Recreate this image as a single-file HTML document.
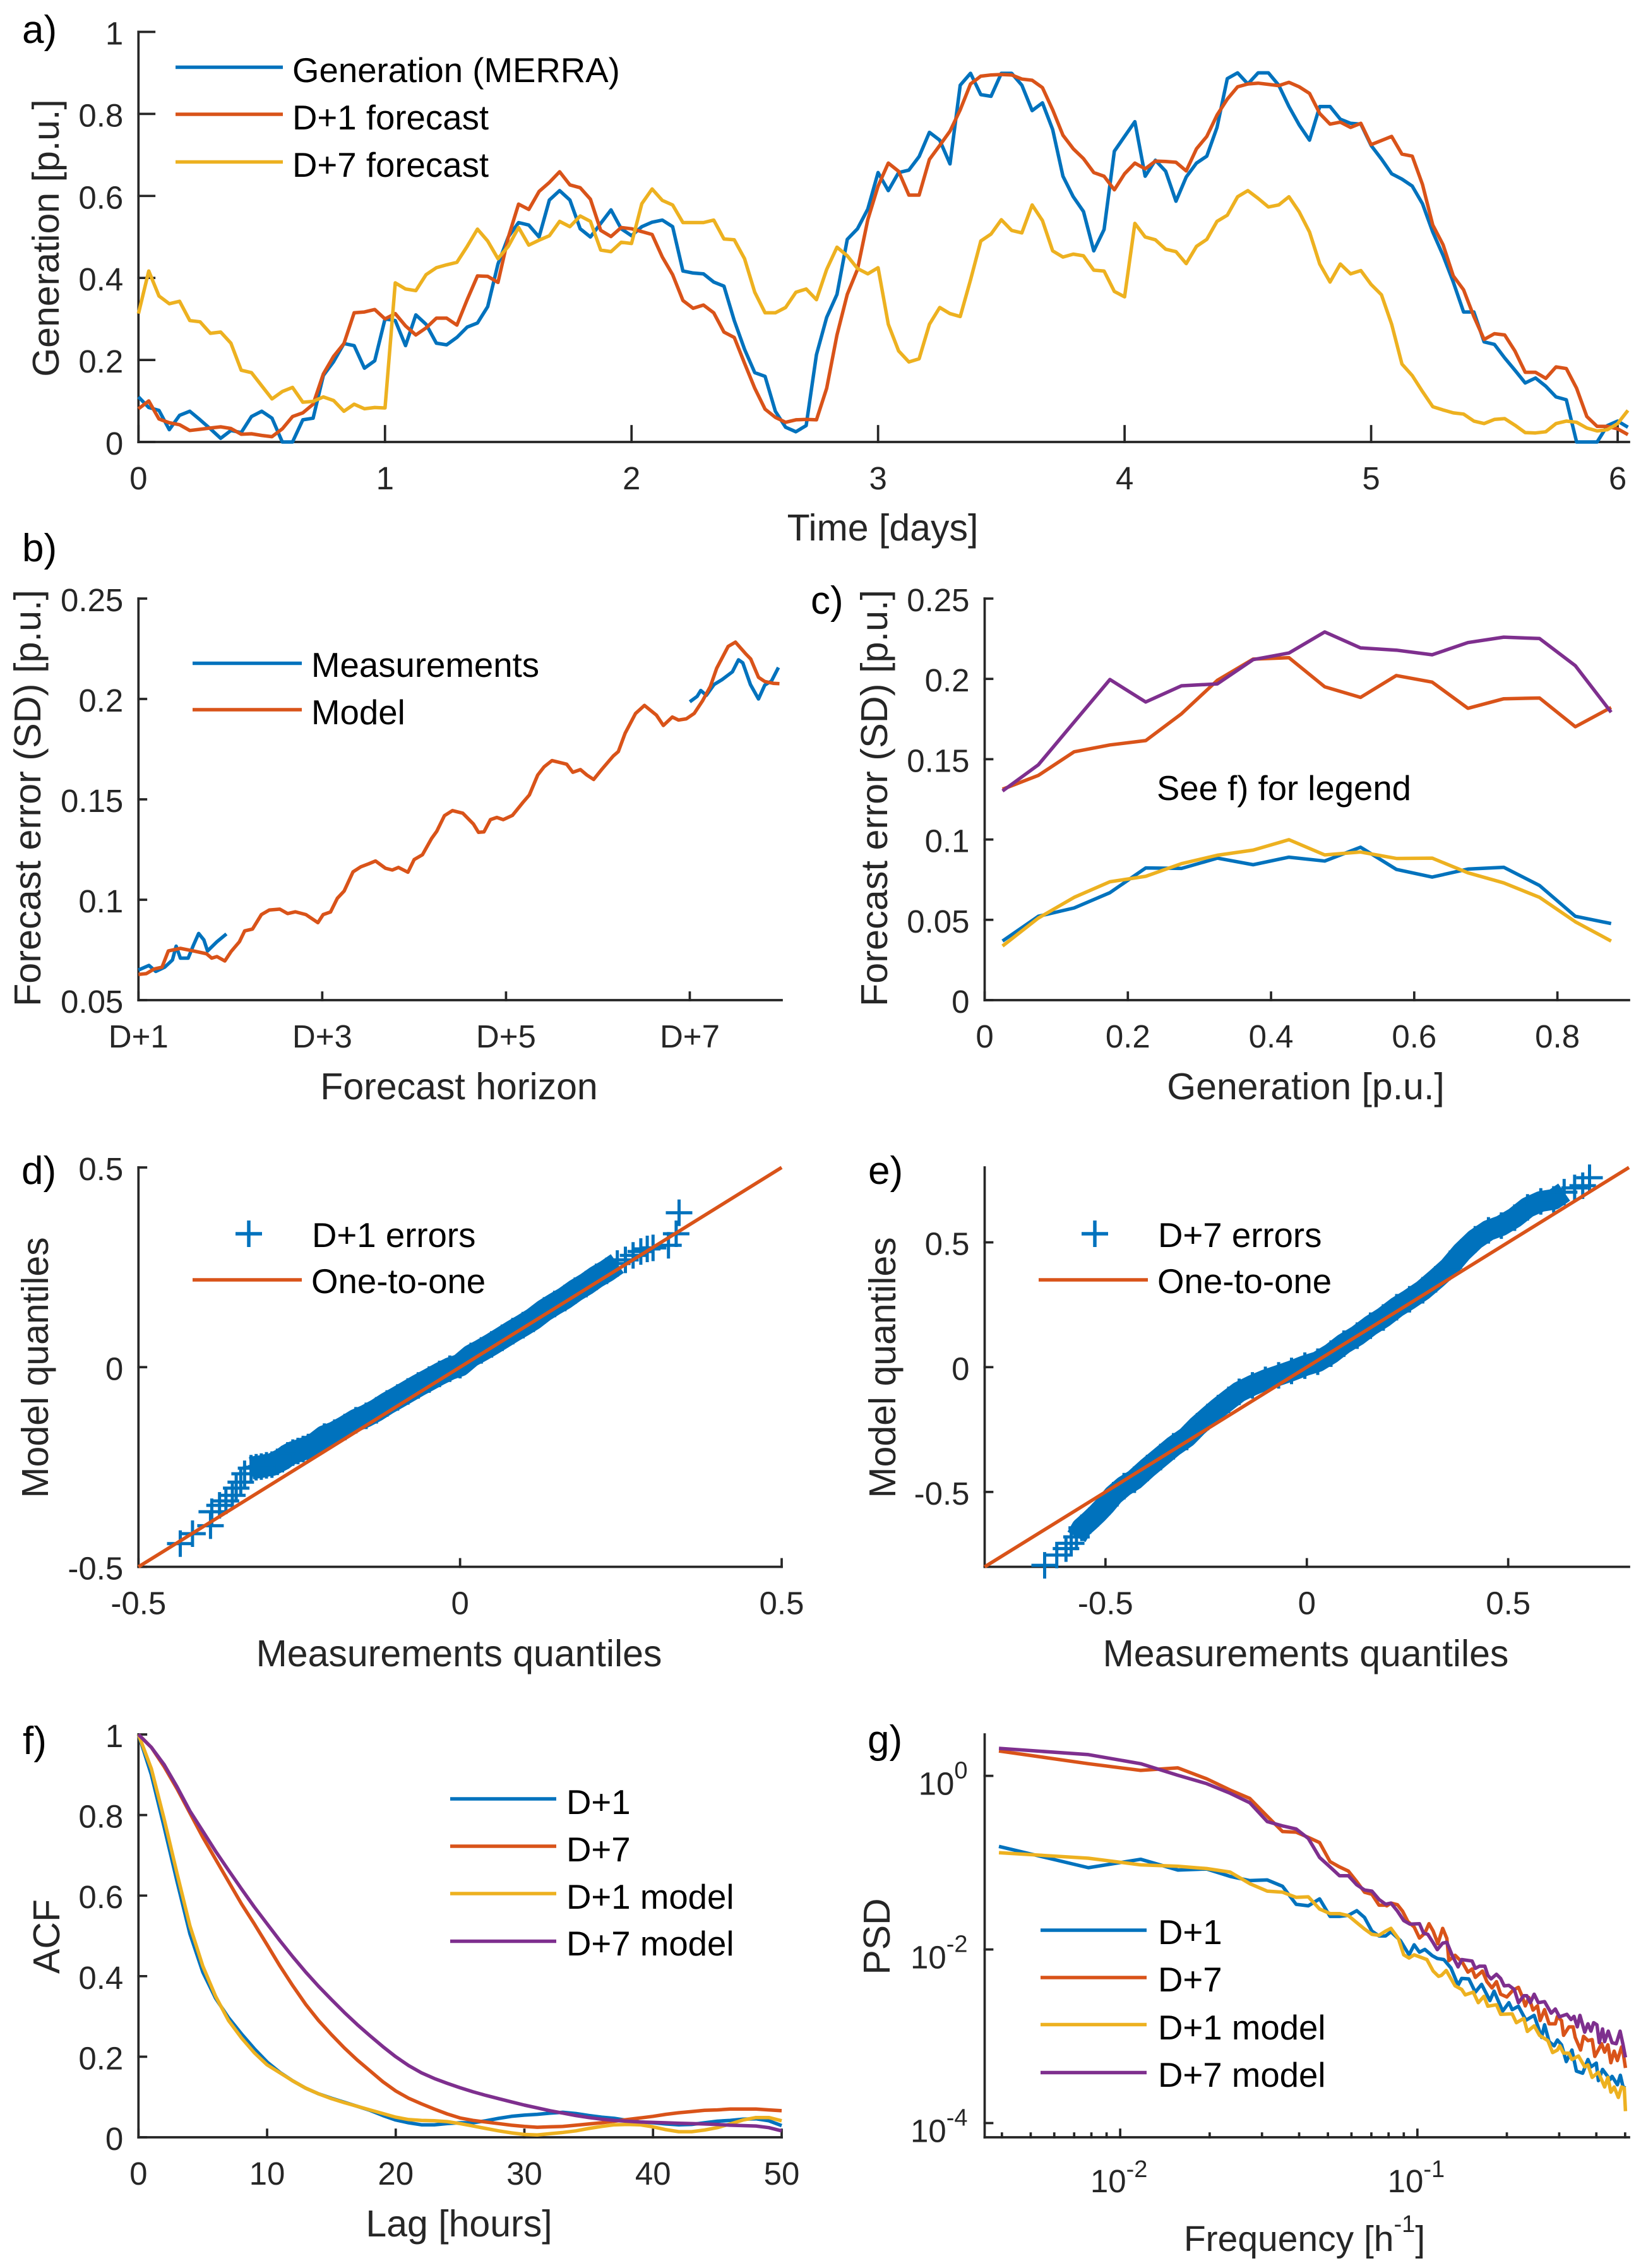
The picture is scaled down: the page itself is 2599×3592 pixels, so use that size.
<!DOCTYPE html>
<html lang="en">
<head>
<meta charset="utf-8">
<title>Wind generation forecast error figure</title>
<style>
html,body{margin:0;padding:0;background:#fff;}
svg{display:block;}
text{font-family:"Liberation Sans",sans-serif;}
.tick{font-size:51px;fill:#262626;}
.lab{font-size:59px;fill:#262626;text-anchor:middle;}
.leg{font-size:54.6px;fill:#000;}
.let{font-size:62px;fill:#000;}
</style>
</head>
<body>
<svg id="fig" xmlns="http://www.w3.org/2000/svg" width="2599" height="3592" viewBox="0 0 2599 3592">
<rect x="0" y="0" width="2599" height="3592" fill="#fff"/>
<g id="marks"></g>

<text class="let" x="35" y="68">a)</text>
<text class="let" x="35" y="889">b)</text>
<text class="let" x="1284" y="972">c)</text>
<text class="let" x="34" y="1875">d)</text>
<text class="let" x="1375" y="1875">e)</text>
<text class="let" x="36" y="2778">f)</text>
<text class="let" x="1374" y="2776">g)</text>

<text class="lab" x="1398" y="856">Time [days]</text>
<text class="lab" transform="translate(93 377) rotate(-90)">Generation [p.u.]</text>
<text class="lab" x="727" y="1741">Forecast horizon</text>
<text class="lab" transform="translate(64 1264) rotate(-90)" style="font-size:59.4px">Forecast error (SD) [p.u.]</text>
<text class="lab" x="2068" y="1741">Generation [p.u.]</text>
<text class="lab" transform="translate(1405 1264) rotate(-90)" style="font-size:59.4px">Forecast error (SD) [p.u.]</text>
<text class="lab" x="727" y="2639">Measurements quantiles</text>
<text class="lab" transform="translate(76 2166) rotate(-90)">Model quantiles</text>
<text class="lab" x="2068" y="2639">Measurements quantiles</text>
<text class="lab" transform="translate(1418 2166) rotate(-90)">Model quantiles</text>
<text class="lab" x="727" y="3542">Lag [hours]</text>
<text class="lab" transform="translate(94 3067) rotate(-90)">ACF</text>
<text class="lab" x="2066" y="3565" style="font-size:57px">Frequency [h<tspan dy="-30" font-size="38">-1</tspan><tspan dy="30">]</tspan></text>
<text class="lab" transform="translate(1409 3067) rotate(-90)">PSD</text>

<g stroke-width="5.5">
<line x1="278" x2="448" y1="106.5" y2="106.5" stroke="#0072BD"/>
<line x1="278" x2="448" y1="181" y2="181" stroke="#D95319"/>
<line x1="278" x2="448" y1="256.5" y2="256.5" stroke="#EDB120"/>
<text class="leg" x="463" y="130">Generation (MERRA)</text>
<text class="leg" x="463" y="205">D+1 forecast</text>
<text class="leg" x="463" y="280">D+7 forecast</text>
</g>
<g stroke-width="5.5">
<line x1="305" x2="478" y1="1050.5" y2="1050.5" stroke="#0072BD"/>
<line x1="305" x2="478" y1="1124" y2="1124" stroke="#D95319"/>
<text class="leg" x="493" y="1072">Measurements</text>
<text class="leg" x="493" y="1147">Model</text>
</g>
<text class="leg" x="1832" y="1267" style="font-size:54.5px">See f) for legend</text>
<g stroke-width="5.5">
<line x1="373" x2="415" y1="1954" y2="1954" stroke="#0072BD"/>
<line x1="394" x2="394" y1="1933" y2="1975" stroke="#0072BD"/>
<line x1="305" x2="478" y1="2027" y2="2027" stroke="#D95319"/>
<text class="leg" x="494" y="1975">D+1 errors</text>
<text class="leg" x="493" y="2048">One-to-one</text>
</g>
<g stroke-width="5.5">
<line x1="1713" x2="1755" y1="1954" y2="1954" stroke="#0072BD"/>
<line x1="1734" x2="1734" y1="1933" y2="1975" stroke="#0072BD"/>
<line x1="1645" x2="1818" y1="2027" y2="2027" stroke="#D95319"/>
<text class="leg" x="1834" y="1975">D+7 errors</text>
<text class="leg" x="1833" y="2048">One-to-one</text>
</g>
<g stroke-width="5.5">
<line x1="713" x2="881" y1="2849" y2="2849" stroke="#0072BD"/>
<line x1="713" x2="881" y1="2924" y2="2924" stroke="#D95319"/>
<line x1="713" x2="881" y1="2999" y2="2999" stroke="#EDB120"/>
<line x1="713" x2="881" y1="3074.5" y2="3074.5" stroke="#7E2F8E"/>
<text class="leg" x="897" y="2873">D+1</text>
<text class="leg" x="897" y="2948">D+7</text>
<text class="leg" x="897" y="3023">D+1 model</text>
<text class="leg" x="897" y="3097">D+7 model</text>
</g>
<g stroke-width="5.5">
<line x1="1648" x2="1816" y1="3057" y2="3057" stroke="#0072BD"/>
<line x1="1648" x2="1816" y1="3132" y2="3132" stroke="#D95319"/>
<line x1="1648" x2="1816" y1="3206.5" y2="3206.5" stroke="#EDB120"/>
<line x1="1648" x2="1816" y1="3282.5" y2="3282.5" stroke="#7E2F8E"/>
<text class="leg" x="1834" y="3079">D+1</text>
<text class="leg" x="1834" y="3154">D+7</text>
<text class="leg" x="1834" y="3230">D+1 model</text>
<text class="leg" x="1834" y="3305">D+7 model</text>
</g>
</svg>

<script>
/* Panel a: hourly generation and forecasts (p.u.), sample spacing is 1 hour */
const genMerra = [.11,.084,.077,.03,.065,.075,.054,.032,.009,.028,.023,.062,.075,.058,0,0,.054,.058,.162,.196,.24,.235,.18,.198,.30,.296,.235,.31,.287,.241,.237,.255,.28,.29,.33,.434,.50,.535,.529,.50,.59,.613,.59,.52,.50,.533,.566,.52,.503,.525,.536,.541,.525,.417,.412,.41,.39,.38,.296,.226,.169,.16,.075,.036,.025,.04,.213,.304,.36,.494,.52,.568,.657,.613,.657,.663,.696,.755,.736,.678,.87,.899,.847,.843,.899,.899,.87,.808,.827,.762,.648,.598,.562,.466,.518,.709,.745,.781,.648,.687,.66,.587,.646,.68,.697,.767,.886,.90,.873,.90,.90,.87,.818,.773,.736,.818,.818,.787,.777,.775,.723,.69,.654,.641,.624,.581,.512,.455,.39,.317,.317,.244,.238,.205,.175,.144,.156,.136,.11,.103,0,0,0,.04,.051,.036];
const fcstD1 = [.081,.10,.056,.047,.042,.028,.031,.034,.037,.033,.019,.02,.016,.013,.032,.062,.071,.092,.166,.209,.24,.315,.317,.323,.30,.313,.283,.261,.278,.302,.302,.285,.347,.405,.404,.389,.499,.58,.567,.611,.633,.659,.627,.62,.592,.516,.501,.523,.52,.513,.506,.451,.408,.345,.326,.334,.315,.268,.255,.192,.131,.08,.06,.048,.054,.055,.054,.131,.261,.36,.421,.542,.624,.68,.66,.602,.602,.689,.723,.758,.81,.873,.892,.895,.896,.895,.885,.882,.864,.81,.748,.715,.691,.657,.648,.615,.654,.68,.666,.685,.684,.682,.661,.715,.745,.797,.836,.866,.873,.875,.872,.869,.877,.866,.85,.801,.775,.78,.767,.777,.725,.735,.745,.702,.697,.628,.529,.481,.405,.371,.306,.25,.264,.261,.222,.17,.17,.155,.183,.179,.131,.062,.038,.038,.032,.018];
const fcstD7 = [.313,.417,.356,.337,.343,.296,.293,.265,.268,.241,.175,.169,.137,.105,.123,.133,.097,.099,.11,.101,.075,.092,.081,.084,.083,.388,.373,.369,.408,.425,.432,.438,.477,.519,.49,.447,.477,.523,.48,.492,.503,.538,.525,.551,.538,.468,.464,.487,.484,.581,.617,.589,.578,.535,.535,.535,.541,.495,.493,.447,.365,.315,.315,.328,.365,.373,.347,.421,.475,.454,.423,.41,.425,.287,.222,.195,.203,.287,.328,.313,.306,.395,.49,.507,.542,.516,.51,.578,.54,.466,.451,.458,.454,.419,.417,.367,.354,.533,.5,.493,.47,.464,.435,.477,.494,.538,.553,.598,.613,.594,.573,.578,.598,.561,.512,.434,.39,.434,.41,.418,.384,.359,.287,.19,.162,.123,.086,.078,.071,.068,.051,.045,.055,.057,.041,.023,.022,.025,.045,.051,.048,.034,.027,.03,.045,.077];

/* Panel b: forecast error SD vs horizon */
const horizonModel = [1,1.085,1.17,1.256,1.325,1.456,1.598,1.74,1.797,1.854,1.94,2.008,2.099,2.156,2.241,2.338,2.424,2.538,2.623,2.708,2.822,2.953,3.01,3.09,3.164,3.238,3.335,3.42,3.506,3.58,3.688,3.762,3.83,3.933,4,4.09,4.19,4.246,4.33,4.417,4.53,4.645,4.7,4.76,4.83,4.9,4.97,5.07,5.186,5.254,5.345,5.414,5.5,5.66,5.727,5.81,5.88,5.954,6.04,6.165,6.222,6.296,6.41,6.507,6.638,6.712,6.81,6.877,6.962,7.048,7.139,7.224,7.293,7.418,7.497,7.606,7.663,7.748,7.816,7.907,7.976];
const sdModel = [.0628,.0632,.0655,.0664,.0745,.0758,.0745,.0731,.0709,.0717,.0695,.0742,.0791,.0845,.0854,.0926,.0949,.0953,.0931,.094,.0926,.0886,.0926,.0939,.1007,.1043,.1139,.1164,.1179,.1193,.1157,.1148,.1161,.1137,.12,.1224,.1305,.1341,.1419,.1444,.1431,.1377,.1336,.1338,.1399,.141,.1399,.142,.1486,.1522,.1621,.1662,.1693,.1675,.1635,.1648,.1621,.1599,.1648,.1715,.1738,.1829,.1928,.1968,.1919,.1868,.191,.1895,.1901,.1928,.1991,.2063,.2153,.2262,.2283,.2226,.2199,.2108,.2087,.2078,.2076];
const horizonMeasEarly = [1,1.114,1.188,1.285,1.37,1.41,1.456,1.541,1.598,1.655,1.712,1.752,1.854,1.957];
const sdMeasEarly = [.065,.0673,.0643,.0664,.07,.0769,.0709,.0709,.0773,.0832,.08,.0745,.0791,.083];
const horizonMeasLate = [7,7.08,7.12,7.18,7.264,7.35,7.463,7.53,7.577,7.66,7.748,7.816,7.89,7.965];
const sdMeasLate = [.1986,.2013,.2042,.2018,.2072,.2096,.2135,.2195,.218,.2072,.2,.2069,.209,.2157];

/* Panel c: error SD per generation bin */
const genBins = [.025,.075,.125,.175,.225,.275,.325,.375,.425,.475,.525,.575,.625,.675,.725,.775,.825,.875];
const binD1 = [.0368,.0522,.0574,.0669,.0823,.082,.0884,.0843,.089,.0866,.0952,.0814,.0766,.0816,.0827,.0714,.0522,.0477];
const binD7 = [.1313,.1399,.1546,.1589,.1616,.1783,.1991,.2123,.2132,.1951,.1885,.2021,.198,.1817,.1876,.1881,.1702,.1822];
const binD1Model = [.0337,.0511,.064,.0737,.0771,.085,.0902,.0934,.0999,.0904,.0922,.0882,.0884,.0793,.073,.064,.0488,.0368];
const binD7Model = [.1302,.1465,.1731,.1996,.1856,.1957,.1969,.212,.2161,.2292,.2193,.2179,.215,.2226,.226,.2251,.2082,.1792];

/* Panel d: quantile pairs for D+1 errors */
const qqD1Meas = [-.435,-.416,-.388,-.386,-.374,-.364,-.354,-.348,-.341,-.335,-.325,-.317,-.309,-.301,-.2925,-.284,-.276,-.268,-.26,-.252,-.244,-.236,-.227,-.211,-.195,-.179,-.162,-.146,-.13,-.1135,-.097,-.081,-.065,-.048,-.032,-.016,0,.017,.033,.049,.0655,.082,.098,.114,.131,.147,.163,.179,.196,.212,.228,.2445,.257,.269,.281,.291,.3,.324,.336,.3405];
const qqD1Model = [-.442,-.417,-.397,-.362,-.346,-.335,-.321,-.303,-.288,-.267,-.253,-.2505,-.249,-.246,-.244,-.237,-.2305,-.221,-.214,-.21,-.205,-.2,-.194,-.174,-.164,-.15,-.133,-.122,-.108,-.091,-.076,-.061,-.046,-.031,-.017,-.004,.005,.028,.042,.057,.0735,.09,.105,.121,.142,.158,.173,.1915,.208,.226,.241,.2595,.2686,.28,.2895,.296,.2985,.305,.334,.3866];
const oneToOneD1 = [-.5,.5];

/* Panel e: quantile pairs for D+7 errors */
const qqD7Meas = [-.651,-.621,-.598,-.585,-.572,-.559,-.539,-.52,-.5,-.48,-.454,-.428,-.396,-.363,-.331,-.298,-.272,-.246,-.22,-.194,-.168,-.135,-.103,-.07,-.038,-.005,.027,.06,.092,.125,.158,.19,.223,.255,.288,.32,.353,.385,.418,.451,.483,.516,.548,.581,.613,.639,.665,.685,.702];
const qqD7Model = [-.794,-.753,-.727,-.706,-.68,-.644,-.615,-.586,-.552,-.513,-.477,-.451,-.404,-.36,-.317,-.28,-.237,-.2,-.164,-.131,-.099,-.073,-.051,-.033,-.015,.006,.022,.054,.094,.126,.166,.199,.24,.272,.308,.352,.4,.461,.512,.548,.567,.599,.64,.664,.672,.701,.718,.727,.759];
const oneToOneD7 = [-.8,.8];

/* Panel f: autocorrelation, one value per hour of lag */
const acfD1 = [1,.90,.77,.635,.505,.41,.345,.297,.257,.22,.187,.161,.14,.122,.108,.097,.087,.077,.067,.054,.043,.036,.031,.031,.034,.036,.036,.041,.047,.052,.055,.057,.06,.062,.059,.054,.05,.047,.042,.038,.036,.033,.031,.032,.036,.04,.042,.045,.046,.041,.029];
const acfD7 = [1,.968,.92,.865,.805,.745,.69,.635,.58,.53,.478,.425,.376,.33,.29,.255,.222,.192,.165,.138,.115,.097,.083,.07,.058,.048,.042,.038,.034,.03,.027,.025,.026,.027,.03,.033,.036,.04,.044,.048,.052,.057,.061,.064,.067,.068,.07,.07,.07,.068,.066];
const acfD1Model = [1,.915,.79,.655,.525,.425,.35,.29,.247,.21,.18,.16,.14,.122,.108,.096,.086,.077,.068,.059,.05,.044,.042,.041,.039,.034,.028,.022,.016,.011,.007,.006,.009,.012,.016,.022,.027,.031,.032,.031,.026,.019,.014,.014,.018,.024,.033,.043,.049,.049,.041];
const acfD7Model = [1,.968,.925,.87,.81,.76,.71,.663,.617,.572,.53,.488,.448,.41,.375,.342,.31,.28,.252,.225,.2,.178,.16,.146,.134,.123,.113,.104,.096,.088,.08,.073,.066,.06,.054,.049,.045,.042,.04,.038,.037,.036,.035,.034,.033,.032,.03,.029,.028,.024,.016];

/* Panel g: PSD, both frequency and power as base-10 exponents */
const psdFreqLow = [-2.408,-2.107,-1.931,-1.806,-1.709,-1.63,-1.564,-1.505,-1.454,-1.408,-1.367,-1.329,-1.294,-1.262,-1.232,-1.204,-1.178,-1.153,-1.129,-1.107];
const psdD1Low = [-.813,-1.058,-.961,-1.085,-1.073,-1.158,-1.206,-1.199,-1.272,-1.48,-1.497,-1.417,-1.619,-1.619,-1.606,-1.553,-1.631,-1.788,-1.844,-1.844];
const psdD7Low = [.287,.14,.063,.092,-.034,-.163,-.26,-.466,-.641,-.648,-.709,-.769,-.988,-1.049,-1.097,-1.218,-1.34,-1.364,-1.49,-1.49];
const psdD1ModelLow = [-.885,-.949,-1.025,-1.041,-1.068,-1.109,-1.242,-1.328,-1.34,-1.4,-1.393,-1.534,-1.587,-1.587,-1.611,-1.691,-1.764,-1.825,-1.837,-1.788];
const psdD7ModelLow = [.317,.245,.14,.007,-.09,-.2,-.309,-.527,-.576,-.612,-.721,-.94,-1.049,-1.151,-1.151,-1.255,-1.315,-1.328,-1.424,-1.478];
const psdD1FreqHigh = [-1.089,-1.057,-1.028,-1.011,-.993,-.975,-.95,-.933,-.911,-.887,-.863,-.851,-.827,-.805,-.784,-.756,-.742,-.713,-.692,-.681,-.66,-.635,-.607,-.582,-.572,-.557,-.54,-.529,-.515,-.499,-.48,-.465,-.444,-.426,-.416,-.398,-.391,-.377,-.352,-.345,-.327,-.317,-.308,-.3];
const psdD1High = [-1.796,-1.898,-2.062,-1.946,-2.031,-1.999,-2.072,-2.104,-2.116,-2.213,-2.412,-2.334,-2.339,-2.492,-2.402,-2.589,-2.48,-2.71,-2.613,-2.693,-2.654,-2.815,-2.759,-3.013,-2.868,-3.062,-3.11,-3.043,-3.098,-3.292,-3.159,-3.402,-3.426,-3.268,-3.353,-3.309,-3.511,-3.382,-3.499,-3.462,-3.559,-3.45,-3.584,-3.596];
const psdD7FreqHigh = [-1.103,-1.089,-1.067,-1.05,-1.032,-1.011,-.993,-.975,-.961,-.947,-.931,-.915,-.901,-.894,-.873,-.848,-.83,-.816,-.805,-.781,-.766,-.749,-.734,-.72,-.699,-.678,-.66,-.646,-.637,-.625,-.611,-.596,-.587,-.572,-.557,-.536,-.529,-.515,-.508,-.49,-.476,-.469,-.451,-.441,-.426,-.412,-.403,-.38,-.37,-.359,-.349,-.338,-.327,-.313,-.308,-.3];
const psdD7High = [-1.497,-1.466,-1.485,-1.558,-1.679,-1.74,-1.868,-1.813,-1.703,-1.788,-1.934,-1.757,-1.873,-2.128,-2.067,-2.152,-2.261,-2.225,-2.322,-2.249,-2.371,-2.443,-2.371,-2.516,-2.548,-2.468,-2.436,-2.553,-2.65,-2.553,-2.698,-2.65,-2.819,-2.693,-2.856,-2.856,-2.771,-2.819,-2.989,-2.892,-2.892,-3.013,-3.159,-3.001,-3.05,-3.038,-3.232,-3.086,-3.183,-3.098,-3.305,-3.171,-3.28,-3.123,-3.183,-3.365];
const psdD1ModelFreqHigh = [-1.089,-1.064,-1.046,-1.028,-1.011,-.968,-.947,-.929,-.919,-.903,-.873,-.851,-.839,-.812,-.795,-.776,-.763,-.734,-.72,-.681,-.667,-.642,-.63,-.607,-.589,-.561,-.545,-.529,-.521,-.508,-.49,-.48,-.458,-.437,-.426,-.412,-.391,-.37,-.359,-.349,-.338,-.324,-.313,-.304,-.3];
const psdD1ModelHigh = [-1.757,-1.873,-2.062,-2.099,-2.062,-2.116,-2.249,-2.31,-2.298,-2.242,-2.419,-2.46,-2.523,-2.492,-2.613,-2.54,-2.654,-2.637,-2.747,-2.742,-2.844,-2.795,-2.945,-2.88,-2.989,-3.05,-3.188,-3.159,-3.11,-3.195,-3.195,-3.268,-3.227,-3.353,-3.329,-3.474,-3.414,-3.584,-3.474,-3.644,-3.584,-3.705,-3.584,-3.596,-3.863];
const psdD7ModelFreqHigh = [-1.089,-1.067,-1.046,-1.025,-.993,-.979,-.965,-.947,-.933,-.915,-.901,-.883,-.863,-.851,-.816,-.805,-.791,-.773,-.763,-.752,-.734,-.72,-.708,-.692,-.674,-.66,-.642,-.632,-.62,-.607,-.593,-.572,-.55,-.536,-.522,-.497,-.483,-.473,-.462,-.453,-.437,-.426,-.416,-.407,-.396,-.388,-.377,-.37,-.358,-.345,-.331,-.318,-.308,-.3];
const psdD7ModelHigh = [-1.466,-1.558,-1.667,-1.708,-1.703,-1.813,-1.825,-1.922,-2.002,-1.927,-1.917,-2.067,-2.201,-2.116,-2.133,-2.218,-2.193,-2.193,-2.298,-2.339,-2.286,-2.334,-2.419,-2.414,-2.46,-2.613,-2.533,-2.533,-2.613,-2.516,-2.613,-2.601,-2.734,-2.686,-2.776,-2.747,-2.807,-2.771,-2.892,-2.759,-2.953,-2.856,-2.941,-2.844,-2.868,-3.074,-2.916,-3.062,-2.941,-3.074,-3.086,-2.941,-3.098,-3.244];

/* Tick values and tick labels */
const ticksAX = [0,1,2,3,4,5,6];
const labelsAX = ['0','1','2','3','4','5','6'];
const ticksAY = [0,.2,.4,.6,.8,1];
const labelsAY = ['0','0.2','0.4','0.6','0.8','1'];
const ticksBX = [1,3,5,7];
const labelsBX = ['D+1','D+3','D+5','D+7'];
const ticksBY = [.05,.1,.15,.2,.25];
const labelsBY = ['0.05','0.1','0.15','0.2','0.25'];
const ticksCX = [0,.2,.4,.6,.8];
const labelsCX = ['0','0.2','0.4','0.6','0.8'];
const ticksCY = [0,.05,.1,.15,.2,.25];
const labelsCY = ['0','0.05','0.1','0.15','0.2','0.25'];
const ticksQQ = [-.5,0,.5];
const labelsQQ = ['-0.5','0','0.5'];
const ticksFX = [0,10,20,30,40,50];
const labelsFX = ['0','10','20','30','40','50'];
const psdMajorX = [-2,-1];
const psdMinorX = [.004,.005,.006,.007,.008,.009,.02,.03,.04,.05,.06,.07,.08,.09,.2,.3,.4,.5];
const psdMajorY = [0,-2,-4];

const BLUE='#0072BD', RED='#D95319', YEL='#EDB120', PUR='#7E2F8E', INK='#262626';
const NS='http://www.w3.org/2000/svg';
const root=document.getElementById('marks');

function linear(d0,d1,r0,r1){return function(v){return r0+(v-d0)*(r1-r0)/(d1-d0);};}

function makeLine(parent,x1,y1,x2,y2,w,name){
  const el=document.createElementNS(NS,'line');
  
  
  el.setAttribute('x1',x1);el.setAttribute('y1',y1);el.setAttribute('x2',x2);el.setAttribute('y2',y2);
  el.setAttribute('stroke',INK);el.setAttribute('stroke-width',w);el.setAttribute('stroke-linecap','square');
  parent.appendChild(el);
}
function makeTickLabel(parent,x,y,anchor,str,name){
  const el=document.createElementNS(NS,'text');
  
  
  el.setAttribute('class','tick');el.setAttribute('x',x);el.setAttribute('y',y);el.setAttribute('text-anchor',anchor);
  el.textContent=str;
  parent.appendChild(el);
}
function makeAxes(id,box,xT,xL,yT,yL,sx,sy,tickLen){
  const g=document.createElementNS(NS,'g');
  
  
  root.appendChild(g);
  makeLine(g,box.l,box.b,box.r,box.b,3.7,id+'-x-axis');
  makeLine(g,box.l,box.t,box.l,box.b,3.7,id+'-y-axis');
  xT.forEach(function(v,i){
    makeLine(g,sx(v),box.b,sx(v),box.b-tickLen,3.7,id+'-x-tick');
    makeTickLabel(g,sx(v),box.b+75,'middle',xL[i],id+'-x-tick-label');
  });
  yT.forEach(function(v,i){
    makeLine(g,box.l,sy(v),box.l+tickLen,sy(v),3.7,id+'-y-tick');
    makeTickLabel(g,box.l-24,sy(v)+20,'end',yL[i],id+'-y-tick-label');
  });
}
function makeSeries(xs,ys,sx,sy,color,name,w){
  const el=document.createElementNS(NS,'path');
  
  
  let d='';
  for(let i=0;i<xs.length;i++){d+=(i?'L':'M')+sx(xs[i]).toFixed(1)+' '+sy(ys[i]).toFixed(1);}
  el.setAttribute('d',d);el.setAttribute('fill','none');el.setAttribute('stroke',color);
  el.setAttribute('stroke-width',w||5.5);el.setAttribute('stroke-linejoin','round');
  root.appendChild(el);
}
function makePlus(x,y,name){
  const el=document.createElementNS(NS,'path');
  
  
  el.setAttribute('d','M'+(x-21).toFixed(1)+' '+y.toFixed(1)+'H'+(x+21).toFixed(1)+'M'+x.toFixed(1)+' '+(y-21).toFixed(1)+'V'+(y+21).toFixed(1));
  el.setAttribute('fill','none');el.setAttribute('stroke',BLUE);el.setAttribute('stroke-width',5);
  root.appendChild(el);
}

/* Panel a */
(function(){
  const box={l:219.3,r:2580,t:50.5,b:700};
  const sx=linear(0,6.046,box.l,box.r), sy=linear(0,1,box.b,box.t);
  makeAxes('panel-a',box,ticksAX,labelsAX,ticksAY,labelsAY,sx,sy,25);
  const days=function(arr){return arr.map(function(_,i){return i/24;});};
  makeSeries(days(genMerra),genMerra,sx,sy,BLUE,'generation-merra-line');
  makeSeries(days(fcstD1),fcstD1,sx,sy,RED,'d1-forecast-line');
  makeSeries(days(fcstD7),fcstD7,sx,sy,YEL,'d7-forecast-line');
})();

/* Panel b */
(function(){
  const box={l:219.3,r:1238,t:948,b:1584};
  const sx=linear(1,8,box.l,box.r), sy=linear(.05,.25,box.b,box.t);
  makeAxes('panel-b',box,ticksBX,labelsBX,ticksBY,labelsBY,sx,sy,12);
  makeSeries(horizonMeasEarly,sdMeasEarly,sx,sy,BLUE,'measurements-line-d1-range');
  makeSeries(horizonMeasLate,sdMeasLate,sx,sy,BLUE,'measurements-line-d7-range');
  makeSeries(horizonModel,sdModel,sx,sy,RED,'model-line');
})();

/* Panel c */
(function(){
  const box={l:1559.5,r:2580,t:948,b:1584};
  const sx=linear(0,.9,box.l,box.r), sy=linear(0,.25,box.b,box.t);
  makeAxes('panel-c',box,ticksCX,labelsCX,ticksCY,labelsCY,sx,sy,12);
  makeSeries(genBins,binD1,sx,sy,BLUE,'d1-line');
  makeSeries(genBins,binD7,sx,sy,RED,'d7-line');
  makeSeries(genBins,binD1Model,sx,sy,YEL,'d1-model-line');
  makeSeries(genBins,binD7Model,sx,sy,PUR,'d7-model-line');
})();

/* Panel d */
(function(){
  const box={l:219.3,r:1238,t:1849,b:2481.5};
  const sx=linear(-.5,.5,box.l,box.r), sy=linear(-.5,.5,box.b,box.t);
  makeAxes('panel-d',box,ticksQQ,labelsQQ,ticksQQ,labelsQQ,sx,sy,12);
  makeSeries(qqD1Meas.slice(10,52),qqD1Model.slice(10,52),sx,sy,BLUE,'d1-errors-dense-band',36);
  qqD1Meas.forEach(function(v,i){makePlus(sx(v),sy(qqD1Model[i]),'d1-error-marker');});
  makeSeries(oneToOneD1,oneToOneD1,sx,sy,RED,'one-to-one-line');
})();

/* Panel e */
(function(){
  const box={l:1559.5,r:2580,t:1849,b:2481.5};
  const sx=linear(-.8,.8,box.l,box.r), sy=linear(-.8,.8,box.b,box.t);
  makeAxes('panel-e',box,ticksQQ,labelsQQ,ticksQQ,labelsQQ,sx,sy,12);
  makeSeries(qqD7Meas.slice(4,46),qqD7Model.slice(4,46),sx,sy,BLUE,'d7-errors-dense-band',33);
  qqD7Meas.forEach(function(v,i){makePlus(sx(v),sy(qqD7Model[i]),'d7-error-marker');});
  makeSeries(oneToOneD7,oneToOneD7,sx,sy,RED,'one-to-one-line');
})();

/* Panel f */
(function(){
  const box={l:219.3,r:1238,t:2747,b:3385};
  const sx=linear(0,50,box.l,box.r), sy=linear(0,1,box.b,box.t);
  makeAxes('panel-f',box,ticksFX,labelsFX,ticksAY,labelsAY,sx,sy,12);
  const lags=acfD1.map(function(_,i){return i;});
  makeSeries(lags,acfD1,sx,sy,BLUE,'acf-d1-line');
  makeSeries(lags,acfD7,sx,sy,RED,'acf-d7-line');
  makeSeries(lags,acfD1Model,sx,sy,YEL,'acf-d1-model-line');
  makeSeries(lags,acfD7Model,sx,sy,PUR,'acf-d7-model-line');
})();

/* Panel g */
(function(){
  const box={l:1559.5,r:2580,t:2747,b:3385};
  const sx=linear(-2.456,-.288,box.l,box.r), sy=linear(-4.164,.477,box.b,box.t);
  makeAxes('panel-g',box,[],[],[],[],sx,sy,12);
  const g=root.lastChild;
  function expLabel(x,y,anchor,exp,dy,name){
    const el=document.createElementNS(NS,'text');
    
    
    el.setAttribute('class','tick');el.setAttribute('x',x);el.setAttribute('y',y);el.setAttribute('text-anchor',anchor);
    el.appendChild(document.createTextNode('10'));
    const sup=document.createElementNS(NS,'tspan');
    sup.setAttribute('dy',dy);sup.setAttribute('font-size','38');sup.textContent=exp;
    el.appendChild(sup);
    g.appendChild(el);
  }
  psdMinorX.forEach(function(f){makeLine(g,sx(Math.log10(f)),box.b,sx(Math.log10(f)),box.b-6,3.7,'panel-g-x-minor-tick');});
  psdMajorX.forEach(function(e){
    makeLine(g,sx(e),box.b,sx(e),box.b-12,3.7,'panel-g-x-tick');
    expLabel(sx(e)-2,box.b+87,'middle',String(e),-24,'panel-g-x-tick-label');
  });
  psdMajorY.forEach(function(e){
    makeLine(g,box.l,sy(e),box.l+12,sy(e),3.7,'panel-g-y-tick');
    expLabel(box.l-27,sy(e)+30,'end',String(e),-26,'panel-g-y-tick-label');
  });
  makeSeries(psdFreqLow.concat(psdD1FreqHigh),psdD1Low.concat(psdD1High),sx,sy,BLUE,'psd-d1-line');
  makeSeries(psdFreqLow.concat(psdD7FreqHigh),psdD7Low.concat(psdD7High),sx,sy,RED,'psd-d7-line');
  makeSeries(psdFreqLow.concat(psdD1ModelFreqHigh),psdD1ModelLow.concat(psdD1ModelHigh),sx,sy,YEL,'psd-d1-model-line');
  makeSeries(psdFreqLow.concat(psdD7ModelFreqHigh),psdD7ModelLow.concat(psdD7ModelHigh),sx,sy,PUR,'psd-d7-model-line');
})();
</script>
</body>
</html>
